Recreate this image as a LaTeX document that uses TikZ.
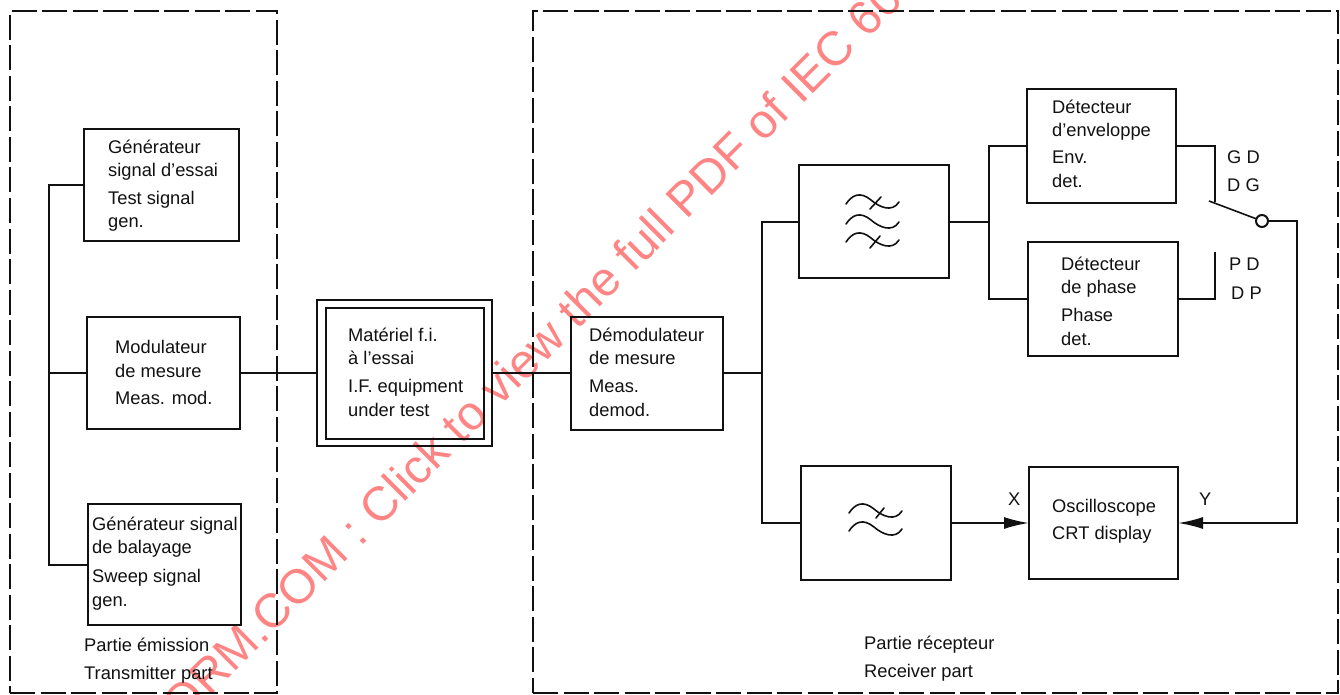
\documentclass[tikz,border=0pt]{standalone}
\usepackage{fontspec}
\setmainfont{Liberation Sans}
\usetikzlibrary{arrows.meta}
\definecolor{ink}{HTML}{111111}
\definecolor{wmark}{HTML}{FF8585}
\tikzset{
  block/.style={draw=ink,line width=2pt,inner sep=0pt,outer sep=0pt},
  zone/.style={draw=ink,line width=2pt,inner sep=0pt,outer sep=0pt,dash pattern=on 25pt off 5.5pt},
  lbl/.style={anchor=north west,align=left,inner sep=0pt,text=ink,yshift=-1.5pt,font=\fontsize{18.3}{23.3}\selectfont},
  wire/.style={draw=ink,line width=2pt},
  sig/.style={wire,-{Latex[length=25pt,width=12pt]}},
  wave/.style={draw=ink,line width=1.6pt,line cap=round},
  term/.style={circle,draw=ink,line width=2pt,minimum size=12pt,inner sep=0pt,outer sep=0pt,fill=white},
  wm/.style={text=wmark,font=\fontsize{48}{50}\selectfont,rotate=45,inner sep=0pt}
}
\newcommand{\fwave}[2]{\draw[wave,shift={(#1,#2)}] (0,0) .. controls (6,-9) and (14,-13) .. (25,-4) .. controls (33,3) and (46,9) .. (53,-2);}
\begin{document}
\begin{tikzpicture}[x=1pt,y=-1pt]
\useasboundingbox (0,0) rectangle (1340,695);
\begin{scope}
\clip (0,0) rectangle (1340,695);
\node[wm] (watermark) at (532,351) {ORM.COM : Click to view the full PDF of IEC 60};
\end{scope}
% zones
\node[zone,minimum width=267pt,minimum height=682pt] (tx) at (143.5,352) {};
\node[zone,minimum width=805pt,minimum height=682pt] (rx) at (935.5,352) {};
% blocks
\node[block,minimum width=155pt,minimum height=112pt] (gen) at (161.5,185) {};
\node[block,minimum width=153pt,minimum height=112pt] (mod) at (163.5,373) {};
\node[block,minimum width=153pt,minimum height=121pt] (sweep) at (164.5,564.5) {};
\node[block,minimum width=175pt,minimum height=146pt] (dutouter) at (404.5,373) {};
\node[block,minimum width=158pt,minimum height=131pt] (dut) at (405,373) {};
\node[block,minimum width=152pt,minimum height=113pt] (demod) at (647,373) {};
\node[block,minimum width=150pt,minimum height=113pt] (bpf) at (874,221.5) {};
\node[block,minimum width=149pt,minimum height=114pt] (env) at (1101.5,146) {};
\node[block,minimum width=150pt,minimum height=114pt] (phase) at (1103,299) {};
\node[block,minimum width=150pt,minimum height=114pt] (lpf) at (876,523) {};
\node[block,minimum width=149pt,minimum height=112pt] (crt) at (1103.5,523) {};
\node[term] (sw) at (1262,221) {};
% block texts
\node[lbl] (tgen) at (108,138) {Générateur\\signal d’essai\\[4.5pt]Test signal\\gen.};
\node[lbl] (tmod) at (115,339) {Modulateur\\de mesure\\[4pt]Meas. mod.};
\node[lbl] (tsweep) at (92,515) {Générateur signal\\de balayage\\[6pt]Sweep signal\\gen.};
\node[lbl] (tdut) at (348,326) {Matériel f.i.\\à l’essai\\[5pt]I.F. equipment\\under test};
\node[lbl] (tdemod) at (589,326) {Démodulateur\\de mesure\\[5pt]Meas.\\demod.};
\node[lbl] (tenv) at (1052,98) {Détecteur\\d’enveloppe\\[4pt]Env.\\det.};
\node[lbl] (tphase) at (1061,255) {Détecteur\\de phase\\[5pt]Phase\\det.};
\node[lbl,font=\fontsize{18.3}{27}\selectfont] (tcrt) at (1052,498) {Oscilloscope\\CRT display};
\node[lbl,font=\fontsize{18.3}{28}\selectfont] (tgd) at (1227,149) {G D\\D G};
\node[lbl] (tpd) at (1229,256) {P D};
\node[lbl] (tdp) at (1231,285) {D P};
\node[lbl] (tx1) at (1008,491) {X};
\node[lbl] (ty1) at (1199,491) {Y};
\node[lbl,font=\fontsize{18.3}{28}\selectfont] (ttx) at (84,636) {Partie émission\\Transmitter part};
\node[lbl,font=\fontsize{18.3}{28}\selectfont] (trx) at (864,634) {Partie récepteur\\Receiver part};
% junctions
\coordinate (bus) at (49,373);
\coordinate (j1) at (762,373);
\coordinate (j2) at (989,221.5);
\coordinate (contactG) at (1215,202);
\coordinate (contactP) at (1215,252);
\coordinate (blade) at (1209,201);
\coordinate (rail) at (1297,373);
% connectors
\draw[wire] (gen.west) -| (bus) |- (sweep.west);
\draw[wire] (mod.west) -- (bus);
\draw[wire] (mod.east) -- (dutouter.west);
\draw[wire] (dutouter.east) -- (demod.west);
\draw[wire] (demod.east) -- (j1);
\draw[wire] (bpf.west) -| (j1) |- (lpf.west);
\draw[wire] (bpf.east) -- (j2);
\draw[wire] (env.west) -| (j2) |- (phase.west);
\draw[wire] (env.east) -| (contactG);
\draw[wire] (phase.east) -| (contactP);
\draw[wire,line width=1.6pt] (blade) -- (sw);
\draw[sig] (lpf.east) -- (crt.west);
\draw[sig] (sw.east) -| (rail) |- (crt.east);
% filter symbols
\fwave{846}{204}
\draw[wave] (870,209) -- (881,197);
\fwave{846}{224}
\fwave{846}{242}
\draw[wave] (870,248) -- (880,236);
\fwave{849}{513}
\draw[wave] (876,518) -- (884,508);
\fwave{849}{531}
\end{tikzpicture}
\end{document}
